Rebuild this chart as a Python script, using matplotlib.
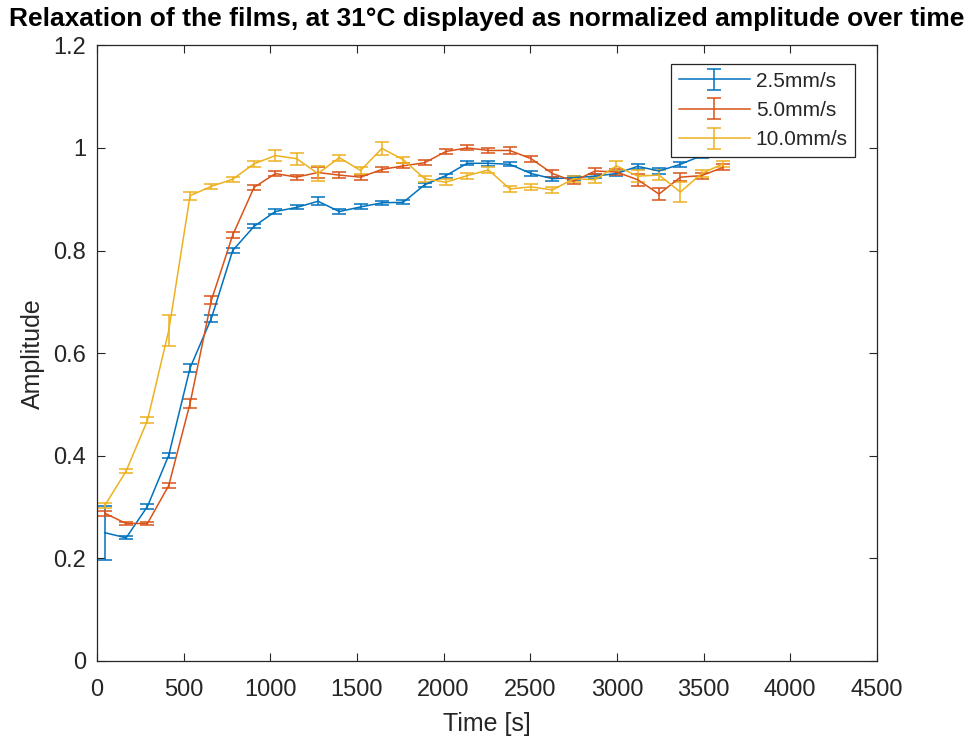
import matplotlib
matplotlib.use('Agg')
from matplotlib import pyplot as plt

# time points [s]
time_s = [45, 168, 291, 414, 537, 660, 783, 906, 1029, 1152, 1275, 1398, 1521, 1644, 1767,
          1890, 2013, 2136, 2259, 2382, 2505, 2628, 2751, 2874, 2997, 3120, 3243, 3366, 3489, 3612]

# normalized amplitude per speed
amp_25 = [0.250, 0.240, 0.301, 0.401, 0.571, 0.668, 0.800, 0.847, 0.876, 0.884, 0.896, 0.876, 0.885, 0.893, 0.894,
          0.928, 0.946, 0.970, 0.970, 0.968, 0.950, 0.940, 0.942, 0.945, 0.950, 0.964, 0.955, 0.968, 0.985, 1.000]
amp_50 = [0.288, 0.268, 0.268, 0.342, 0.502, 0.703, 0.830, 0.923, 0.950, 0.943, 0.952, 0.947, 0.943, 0.958, 0.965,
          0.971, 0.993, 1.000, 0.995, 0.995, 0.979, 0.950, 0.935, 0.955, 0.953, 0.938, 0.910, 0.943, 0.946, 0.962]
amp_100 = [0.303, 0.370, 0.469, 0.644, 0.907, 0.925, 0.939, 0.969, 0.985, 0.979, 0.950, 0.981, 0.956, 0.999, 0.977,
           0.940, 0.933, 0.946, 0.957, 0.920, 0.924, 0.918, 0.940, 0.938, 0.965, 0.945, 0.947, 0.914, 0.950, 0.969]

# error bars
err_25 = [0.053, 0.003, 0.005, 0.005, 0.007, 0.007, 0.005, 0.004, 0.004, 0.004, 0.008, 0.005, 0.005, 0.004, 0.004,
          0.004, 0.004, 0.004, 0.005, 0.004, 0.005, 0.004, 0.004, 0.004, 0.005, 0.005, 0.005, 0.005, 0.005, 0.005]
err_50 = [0.005, 0.003, 0.003, 0.005, 0.008, 0.008, 0.006, 0.005, 0.005, 0.005, 0.010, 0.006, 0.005, 0.005, 0.005,
          0.005, 0.005, 0.005, 0.005, 0.006, 0.006, 0.006, 0.006, 0.006, 0.006, 0.012, 0.012, 0.008, 0.006, 0.006]
err_100 = [0.004, 0.004, 0.006, 0.030, 0.008, 0.005, 0.005, 0.006, 0.010, 0.012, 0.015, 0.006, 0.006, 0.012, 0.006,
           0.006, 0.006, 0.006, 0.006, 0.006, 0.006, 0.006, 0.006, 0.006, 0.010, 0.012, 0.010, 0.020, 0.006, 0.006]

labels = ['2.5mm/s', '5.0mm/s', '10.0mm/s']
cols = ['#0072BD', '#D95319', '#EDB120']

plt.rcParams['font.family'] = ['Liberation Sans', 'DejaVu Sans']
txt_col = '#262626'

fig = plt.figure(figsize=(9.7, 7.4), dpi=100)
ax = fig.add_axes([0.1, 0.1068, 0.804, 0.832])

for y, e, c, lab in zip([amp_25, amp_50, amp_100], [err_25, err_50, err_100], cols, labels):
    ax.errorbar(time_s, y, yerr=e, color=c, linewidth=1.1, elinewidth=1.1,
                capsize=5, capthick=1.1, label=lab)

ax.set_xlim(0, 4500)
ax.set_ylim(0, 1.2)
ax.set_xticks(range(0, 4501, 500))
ax.set_yticks([0, 0.2, 0.4, 0.6, 0.8, 1.0, 1.2])
ax.set_yticklabels(['0', '0.2', '0.4', '0.6', '0.8', '1', '1.2'])

ax.tick_params(direction='in', length=5.5, width=0.8, top=True, right=True,
               labelsize=17, colors=txt_col)
ax.tick_params(axis='x', pad=13)
ax.tick_params(axis='y', pad=8)
for s in ax.spines.values():
    s.set_color(txt_col)
    s.set_linewidth(0.9)

ax.set_xlabel('Time [s]', fontsize=18, color=txt_col, labelpad=8)
ax.set_ylabel('Amplitude', fontsize=18, color=txt_col, labelpad=6)
ax.set_title('Relaxation of the films, at 31°C displayed as normalized amplitude over time',
             fontsize=19, fontweight='bold', pad=14)

leg = ax.legend(loc='upper right', bbox_to_anchor=(0.972, 0.969), fontsize=15,
                fancybox=False, framealpha=1, edgecolor=txt_col, handlelength=3.4,
                borderaxespad=0, labelspacing=0.5, handletextpad=0.3, borderpad=0.35)
leg.get_frame().set_linewidth(0.9)
for t in leg.get_texts():
    t.set_color(txt_col)

plt.savefig('out.png', dpi=100)
